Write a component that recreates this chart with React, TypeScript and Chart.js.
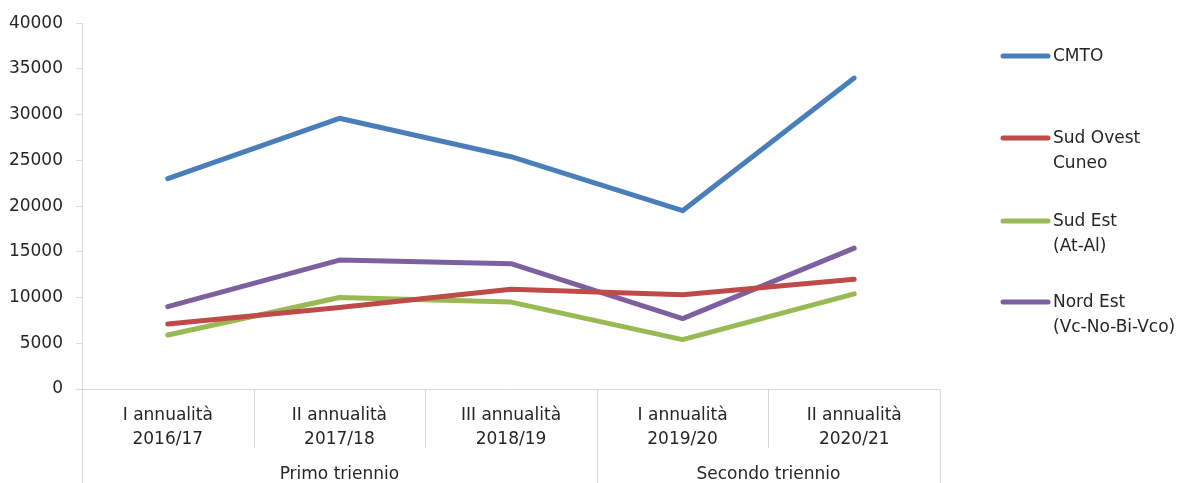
import { useEffect, useRef } from "react";
import { Chart, registerables } from "chart.js";

Chart.register(...registerables);

const categories = [
  ["I annualità", "2016/17"],
  ["II annualità", "2017/18"],
  ["III annualità", "2018/19"],
  ["I annualità", "2019/20"],
  ["II annualità", "2020/21"],
];
const groupLabels = ["Primo triennio", "Secondo triennio"];
const groupSizes = [3, 2];

const seriesNames = ["CMTO", "Sud Ovest Cuneo", "Sud Est (At-Al)", "Nord Est (Vc-No-Bi-Vco)"];
const legendLines = [["CMTO"], ["Sud Ovest", "Cuneo"], ["Sud Est", "(At-Al)"], ["Nord Est", "(Vc-No-Bi-Vco)"]];

const cmto = [23000, 29600, 25400, 19500, 34000];
const sudOvest = [7100, 8900, 10900, 10300, 12000];
const sudEst = [5900, 10000, 9500, 5400, 10400];
const nordEst = [9000, 14100, 13700, 7700, 15400];

const yMin = 0;
const yMax = 40000;
const yStep = 5000;

const colors = ["#4A7EBB", "#BE4B48", "#98B954", "#7D60A0"];
const FONT = "DejaVu Sans";
const TEXT = "#262626";
const GRID = "#D9D9D9";

const decorPlugin = {
  id: "decor",
  afterDraw(chart: any) {
    const ctx = chart.ctx;
    const xs = chart.scales.x;
    const area = chart.chartArea;
    const n = categories.length;
    const half = (xs.getPixelForValue(1) - xs.getPixelForValue(0)) / 2;
    const boundaries: number[] = [];
    let acc = 0;
    boundaries.push(0);
    groupSizes.forEach((s) => {
      acc += s;
      boundaries.push(acc);
    });
    ctx.save();
    ctx.strokeStyle = GRID;
    ctx.lineWidth = 1;
    for (let i = 0; i <= n; i++) {
      const px = i < n ? xs.getPixelForValue(i) - half : xs.getPixelForValue(n - 1) + half;
      const bx = Math.round(px) + 0.5;
      const isGroup = boundaries.includes(i);
      ctx.beginPath();
      ctx.moveTo(bx, area.bottom);
      ctx.lineTo(bx, isGroup ? chart.height : area.bottom + 59);
      ctx.stroke();
    }
    // group labels
    ctx.fillStyle = TEXT;
    ctx.font = `17px "${FONT}"`;
    ctx.textAlign = "center";
    ctx.textBaseline = "middle";
    let start = 0;
    groupSizes.forEach((s, gi) => {
      const l = xs.getPixelForValue(start) - half;
      const r = xs.getPixelForValue(start + s - 1) + half;
      ctx.fillText(groupLabels[gi], (l + r) / 2, area.bottom + 86);
      start += s;
    });
    // legend
    const legendY = [56, 138, 221, 302];
    const lx = area.right + 61;
    chart.data.datasets.forEach((ds: any, i: number) => {
      const y = legendY[i];
      ctx.strokeStyle = ds.borderColor;
      ctx.lineWidth = 5;
      ctx.lineCap = "round";
      ctx.beginPath();
      ctx.moveTo(lx + 2, y);
      ctx.lineTo(lx + 47, y);
      ctx.stroke();
      ctx.fillStyle = TEXT;
      ctx.textAlign = "left";
      ctx.textBaseline = "middle";
      legendLines[i].forEach((t, k) => {
        ctx.fillText(t, lx + 52, y + 1 + k * 24.5);
      });
    });
    ctx.restore();
  },
};

export default function App() {
  const ref = useRef<HTMLCanvasElement>(null);
  useEffect(() => {
    if (!ref.current) return;
    const data = [cmto, sudOvest, sudEst, nordEst];
    const chart = new Chart(ref.current, {
      type: "line",
      data: {
        labels: categories,
        datasets: data.map((d, i) => ({
          label: seriesNames[i],
          data: d,
          borderColor: colors[i],
          backgroundColor: colors[i],
          borderWidth: 5,
          borderCapStyle: "round",
          borderJoinStyle: "round",
          pointRadius: 0,
          pointHoverRadius: 0,
          tension: 0,
          fill: false,
        })),
      },
      options: {
        responsive: false,
        animation: false,
        layout: { padding: { left: 0, top: 21, right: 250, bottom: 0 } },
        plugins: {
          legend: { display: false },
          tooltip: { enabled: false },
        },
        scales: {
          x: {
            type: "category",
            offset: true,
            grid: { display: false, offset: true },
            border: { display: true, color: GRID, width: 1 },
            ticks: {
              color: TEXT,
              font: { family: FONT, size: 17, lineHeight: 1.4 },
              padding: 7,
              maxRotation: 0,
              autoSkip: false,
            },
            afterFit: (s: any) => {
              s.height = 94;
            },
          },
          y: {
            min: yMin,
            max: yMax,
            grid: { display: true, drawOnChartArea: false, drawTicks: true, tickLength: 6, color: GRID },
            border: { display: true, color: GRID, width: 1 },
            ticks: {
              stepSize: yStep,
              color: TEXT,
              font: { family: FONT, size: 17 },
              padding: 13,
              callback: (v: any) => String(v),
            },
            afterFit: (s: any) => {
              s.width = 82;
            },
          },
        },
      },
      plugins: [decorPlugin],
    } as any);
    return () => chart.destroy();
  }, []);
  return (
    <div style={{ position: "absolute", left: 0, top: 0, width: 1190, height: 483, background: "#fff" }}>
      <canvas ref={ref} width={1190} height={483} />
    </div>
  );
}
